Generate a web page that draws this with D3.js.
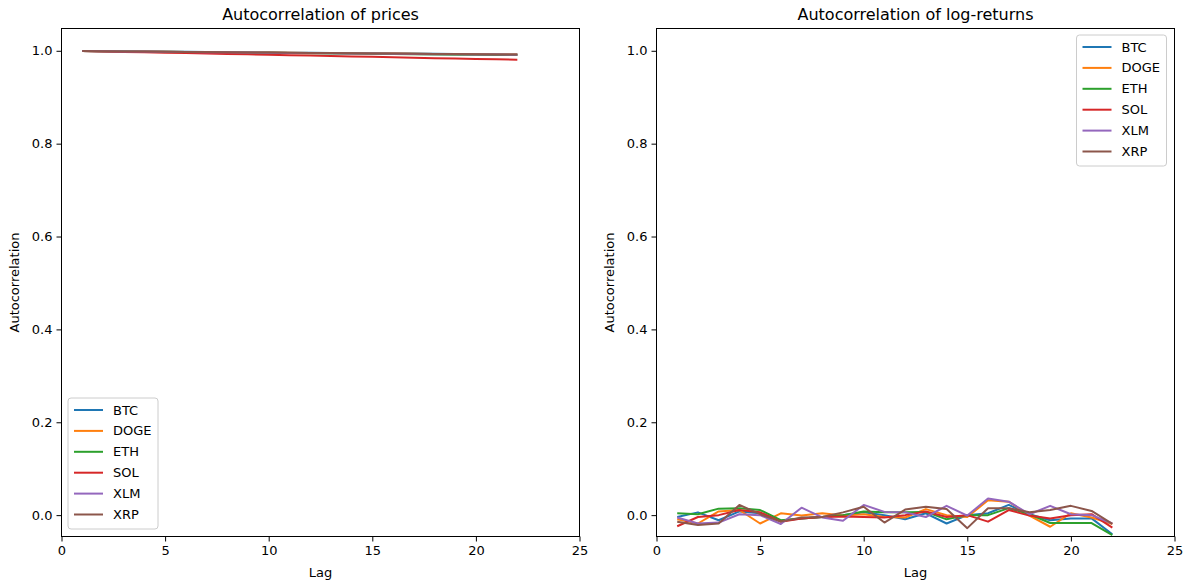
<!DOCTYPE html>
<html><head><meta charset="utf-8">
<script src="https://cdn.jsdelivr.net/npm/d3@7"></script>
<style>body{margin:0;background:#fff}svg{display:block}text{font-family:"DejaVu Sans",sans-serif;fill:#000}</style>
</head><body><svg id="c" width="1189" height="583"></svg>
<script>
const lags = d3.range(1, 23);
const series = ["BTC","DOGE","ETH","SOL","XLM","XRP"];
const colors = ["#1f77b4","#ff7f0e","#2ca02c","#d62728","#9467bd","#8c564b"];
const xTicks = [0,5,10,15,20,25];
const yTicks = [0.0,0.2,0.4,0.6,0.8,1.0];

// Autocorrelation of prices
const priceBTC  = [0.9995,0.9991,0.9988,0.9984,0.9981,0.9977,0.9974,0.9970,0.9967,0.9963,0.9960,0.9956,0.9953,0.9949,0.9946,0.9942,0.9939,0.9935,0.9932,0.9928,0.9924,0.9920];
const priceDOGE = [0.9995,0.9991,0.9987,0.9984,0.9980,0.9976,0.9973,0.9969,0.9965,0.9962,0.9958,0.9954,0.9951,0.9947,0.9944,0.9940,0.9936,0.9933,0.9929,0.9925,0.9922,0.9918];
const priceETH  = [0.9995,0.9991,0.9986,0.9982,0.9978,0.9973,0.9969,0.9965,0.9960,0.9956,0.9952,0.9947,0.9943,0.9939,0.9934,0.9930,0.9926,0.9921,0.9917,0.9913,0.9910,0.9907];
const priceSOL  = [0.9994,0.9985,0.9976,0.9968,0.9959,0.9950,0.9941,0.9932,0.9923,0.9914,0.9905,0.9896,0.9887,0.9878,0.9869,0.9860,0.9851,0.9842,0.9834,0.9825,0.9816,0.9808];
const priceXLM  = [0.9995,0.9991,0.9987,0.9983,0.9979,0.9975,0.9971,0.9967,0.9963,0.9959,0.9955,0.9951,0.9947,0.9943,0.9939,0.9935,0.9931,0.9927,0.9924,0.9920,0.9918,0.9916];
const priceXRP  = [0.9995,0.9991,0.9987,0.9984,0.9980,0.9976,0.9972,0.9969,0.9965,0.9961,0.9958,0.9954,0.9950,0.9947,0.9943,0.9940,0.9936,0.9933,0.9929,0.9926,0.9922,0.9918];

// Autocorrelation of log-returns
const retBTC  = [-0.004,0.006,-0.011,0.008,0.004,-0.012,-0.007,-0.004,0.000,0.006,0.000,-0.009,0.004,-0.018,0.000,0.004,0.022,0.002,-0.011,-0.007,-0.007,-0.041];
const retDOGE = [-0.009,-0.018,0.008,0.011,-0.018,0.004,-0.001,0.004,-0.001,0.002,-0.004,-0.005,0.013,0.000,-0.004,0.032,0.029,-0.001,-0.025,0.004,-0.005,-0.019];
const retETH  = [0.004,0.002,0.014,0.015,0.011,-0.011,-0.007,-0.004,0.000,0.008,0.006,0.006,0.007,-0.009,0.000,0.000,0.015,0.002,-0.017,-0.017,-0.017,-0.043];
const retSOL  = [-0.024,-0.004,0.000,0.011,0.006,-0.014,-0.007,-0.004,-0.003,-0.004,-0.005,0.000,0.008,-0.004,0.000,-0.014,0.011,-0.001,-0.007,0.000,0.002,-0.027];
const retXLM  = [-0.005,-0.018,-0.016,0.002,0.000,-0.019,0.016,-0.005,-0.012,0.022,0.007,0.006,-0.004,0.020,-0.001,0.036,0.029,0.002,0.020,0.002,0.000,-0.018];
const retXRP  = [-0.014,-0.021,-0.018,0.022,0.002,-0.014,-0.005,-0.004,0.006,0.018,-0.016,0.012,0.018,0.013,-0.028,0.015,0.015,0.006,0.011,0.020,0.009,-0.019];

const priceData = [priceBTC,priceDOGE,priceETH,priceSOL,priceXLM,priceXRP];
const retData = [retBTC,retDOGE,retETH,retSOL,retXLM,retXRP];

const svg = d3.select("#c");
const plotTop = 28.5, plotBottom = 536.5;

function panel(x0, x1, title, data, legendPos) {
  const x = d3.scaleLinear().domain([0,25]).range([x0,x1]);
  const y = d3.scaleLinear().domain([-0.046,1.048]).range([plotBottom,plotTop]);
  const g = svg.append("g");
  const line = d3.line().x((d,i)=>x(lags[i])).y(d=>y(d));
  data.forEach((s,i)=>{
    g.append("path").attr("d", line(s)).attr("fill","none")
      .attr("stroke", colors[i]).attr("stroke-width",2).attr("stroke-linejoin","round");
  });
  const xa = g.append("g").attr("transform",`translate(0,${plotBottom})`)
    .call(d3.axisBottom(x).tickValues(xTicks).tickFormat(d3.format("d")).tickSize(5).tickPadding(4));
  const ya = g.append("g").attr("transform",`translate(${x0},0)`)
    .call(d3.axisLeft(y).tickValues(yTicks).tickFormat(d3.format(".1f")).tickSize(5).tickPadding(4));
  [xa,ya].forEach(a=>{a.select(".domain").remove();
    a.selectAll("text").attr("font-size",13).attr("font-family","DejaVu Sans");
    a.selectAll("line").attr("stroke","#000").attr("stroke-width",1);});
  g.append("rect").attr("x",x0).attr("y",plotTop).attr("width",x1-x0).attr("height",plotBottom-plotTop)
    .attr("fill","none").attr("stroke","#000").attr("stroke-width",1);
  g.append("text").attr("x",(x0+x1)/2).attr("y",20).attr("text-anchor","middle")
    .attr("font-size",16).text(title);
  g.append("text").attr("x",(x0+x1)/2).attr("y",577).attr("text-anchor","middle")
    .attr("font-size",13).text("Lag");
  g.append("text").attr("transform",`translate(${x0-43},${(plotTop+plotBottom)/2}) rotate(-90)`)
    .attr("text-anchor","middle").attr("font-size",13).text("Autocorrelation");
  const lg = g.append("g").attr("transform",`translate(${legendPos[0]},${legendPos[1]})`);
  lg.append("rect").attr("x",0).attr("y",0).attr("width",90).attr("height",131).attr("rx",3)
    .attr("fill","#fff").attr("fill-opacity",0.8).attr("stroke","#ccc").attr("stroke-width",1);
  series.forEach((s,i)=>{
    const yy = 12 + i*20.9;
    lg.append("line").attr("x1",6).attr("x2",35).attr("y1",yy).attr("y2",yy)
      .attr("stroke",colors[i]).attr("stroke-width",2);
    lg.append("text").attr("x",45).attr("y",yy+4.5).attr("font-size",13).text(s);
  });
}
panel(61.5, 579.5, "Autocorrelation of prices", priceData, [68, 398]);
panel(656.5, 1174.5, "Autocorrelation of log-returns", retData, [1076.5, 35]);
</script></body></html>
